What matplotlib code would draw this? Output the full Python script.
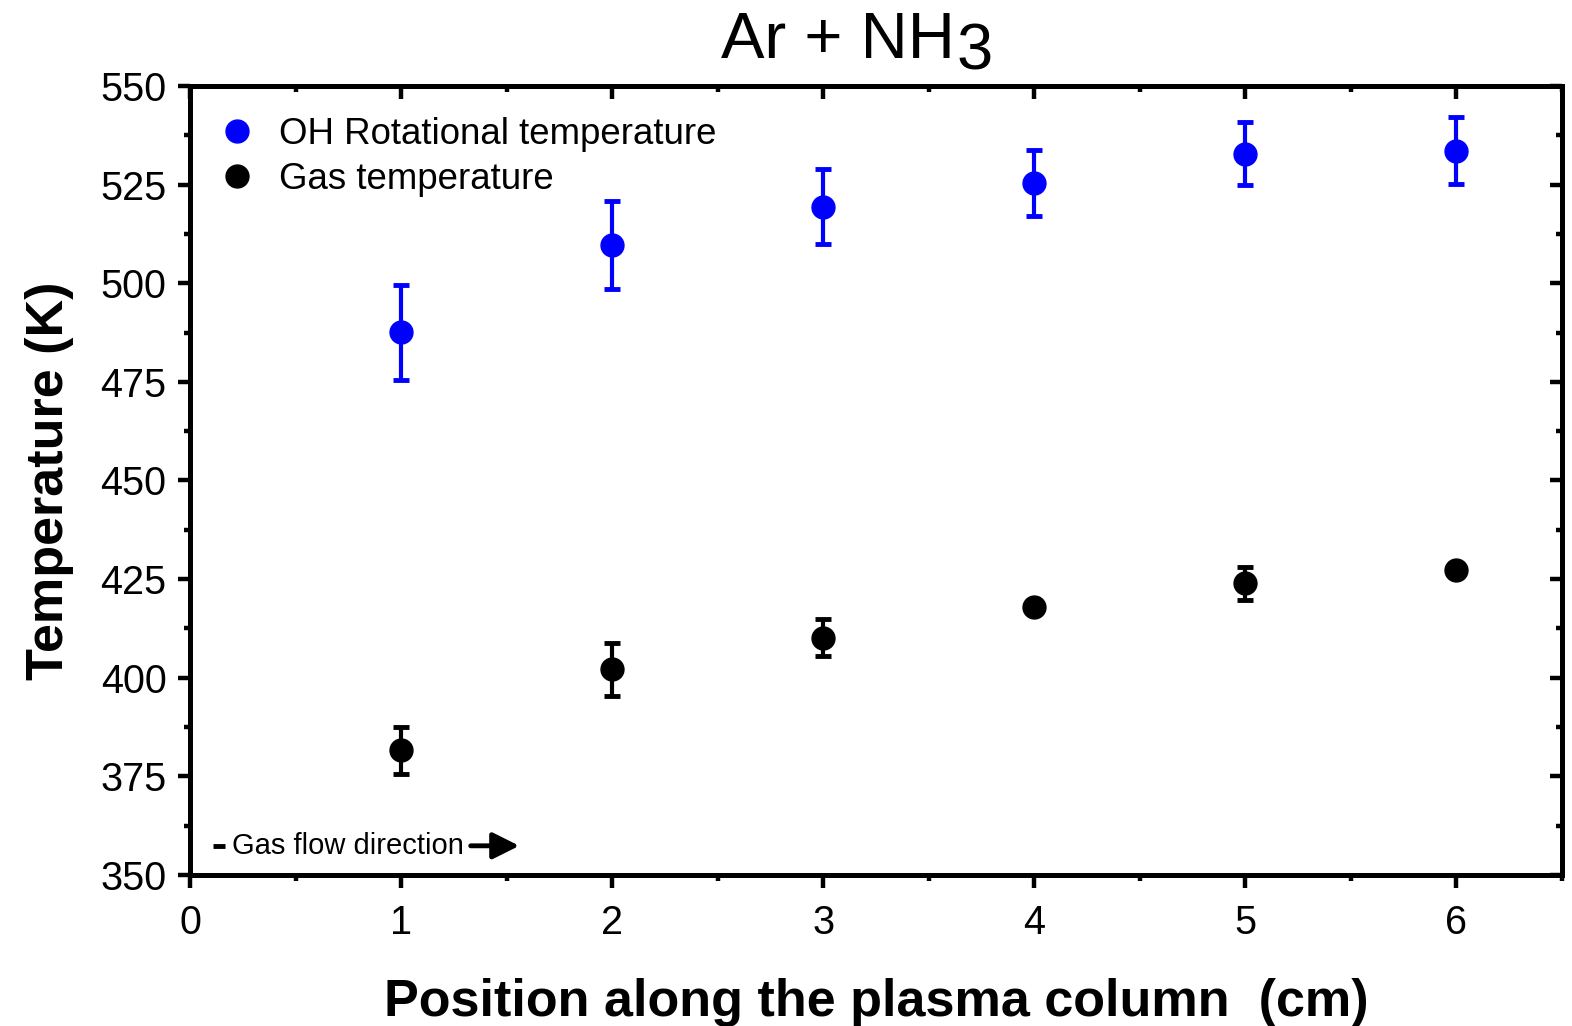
import numpy as np
import matplotlib
matplotlib.use('Agg')
import matplotlib.pyplot as plt
from matplotlib.ticker import MultipleLocator
from matplotlib.lines import Line2D

plt.rcParams['font.family'] = ['Liberation Sans', 'DejaVu Sans']

position = [1, 2, 3, 4, 5, 6]
oh_temp = [487.6, 509.7, 519.4, 525.4, 532.8, 533.6]
oh_err = [12.0, 11.2, 9.5, 8.4, 8.0, 8.5]
gas_temp = [381.6, 402.1, 410.2, 417.9, 424.0, 427.3]
gas_err = [6.0, 6.8, 4.7, 1.5, 4.2, 1.5]

fig = plt.figure(figsize=(15.72, 10.26), dpi=100)
ax = fig.add_axes([190/1572, 1 - 875/1026, (1562 - 190)/1572, (875 - 86)/1026])

ax.errorbar(position, oh_temp, yerr=oh_err, fmt='o', color='#0000ff', ms=16.5,
            elinewidth=3, capsize=5.5, capthick=3.5)
ax.errorbar(position, gas_temp, yerr=gas_err, fmt='o', color='black', ms=16.5,
            elinewidth=3, capsize=5.5, capthick=3.5)

ax.set_xlim(0, 6.5)
ax.set_ylim(350, 550)
ax.xaxis.set_major_locator(MultipleLocator(1))
ax.xaxis.set_minor_locator(MultipleLocator(0.5))
ax.yaxis.set_major_locator(MultipleLocator(25))
ax.yaxis.set_minor_locator(MultipleLocator(12.5))

for s in ax.spines.values():
    s.set_linewidth(3.6)
ax.tick_params(which='major', direction='out', length=9, width=3.2, labelsize=28.5, pad=8)
ax.tick_params(axis='x', which='major', pad=12)
ax.tick_params(which='minor', direction='out', length=4, width=3.2)

# mirrored ticks on top and right point inward
top = ax.secondary_xaxis('top')
top.xaxis.set_major_locator(MultipleLocator(1))
top.xaxis.set_minor_locator(MultipleLocator(0.5))
top.tick_params(which='major', direction='in', length=9, width=3.2, labeltop=False)
top.tick_params(which='minor', direction='in', length=4, width=3.2)
top.spines['top'].set_linewidth(3.6)
right = ax.secondary_yaxis('right')
right.yaxis.set_major_locator(MultipleLocator(25))
right.yaxis.set_minor_locator(MultipleLocator(12.5))
right.tick_params(which='major', direction='in', length=9, width=3.2, labelright=False)
right.tick_params(which='minor', direction='in', length=4, width=3.2)
right.spines['right'].set_linewidth(3.6)

ax.set_xlabel('Position along the plasma column  (cm)', fontsize=37.5, fontweight='bold', labelpad=26)
ax.set_ylabel('Temperature (K)', fontsize=37.5, fontweight='bold', labelpad=19)

fig.text(955/1572, 1 - 58/1026, 'Ar + NH', ha='right', va='baseline', fontsize=47)
fig.text(957/1572, 1 - 70/1026, '3', ha='left', va='baseline', fontsize=47)

handles = [Line2D([], [], ls='none', marker='o', color='#0000ff', ms=16.5),
           Line2D([], [], ls='none', marker='o', color='black', ms=16.5)]
ax.legend(handles, ['OH Rotational temperature', 'Gas temperature'],
          loc='upper left', bbox_to_anchor=(-0.002, 0.996), frameon=False, fontsize=26.4,
          handletextpad=0.55, labelspacing=0.28, borderaxespad=0.35, handlelength=1.2)

# gas flow note
ax.plot([0.11, 0.165], [357.4, 357.4], color='black', lw=3.5, solid_capstyle='butt')
ax.text(0.2, 357.4, 'Gas flow direction', fontsize=21, va='center', ha='left')
ax.annotate('', xy=(1.56, 357.4), xytext=(1.33, 357.4),
            arrowprops=dict(arrowstyle='-|>', lw=3.5, color='black', mutation_scale=40,
                            shrinkA=0, shrinkB=0))

fig.savefig('out.png', dpi=100)
